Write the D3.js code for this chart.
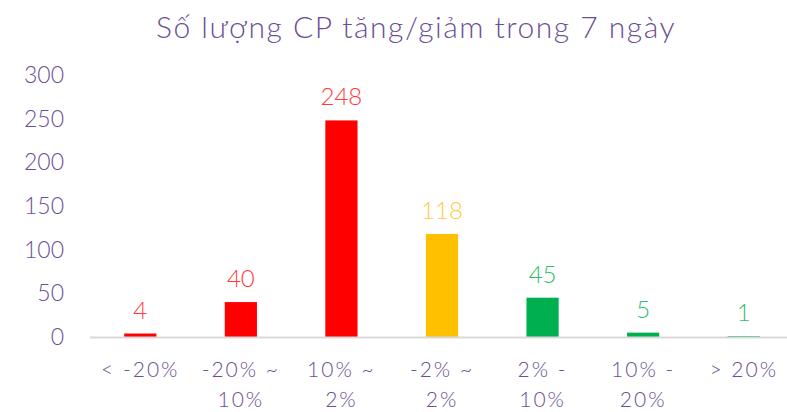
<html>
<head>
<meta charset="utf-8">
<style>
  body { margin:0; background:#fff; }
  text { font-family: Lato, 'Open Sans', sans-serif; font-weight:300; }
</style>
</head>
<body>
<div id="chart"></div>
<script src="https://cdn.jsdelivr.net/npm/d3@7"></script>
<script>
var title = "Số lượng CP tăng/giảm trong 7 ngày";
var categories = [["< -20%"], ["-20% ~", "10%"], ["10% ~", "2%"], ["-2% ~", "2%"], ["2% -", "10%"], ["10% -", "20%"], ["> 20%"]];
var values = [4, 40, 248, 118, 45, 5, 1];
var barColors = ["#ff0000", "#ff0000", "#ff0000", "#ffc000", "#00b050", "#00b050", "#00b050"];
var labelColors = ["#ff3b3b", "#ff3b3b", "#ff3b3b", "#ffc845", "#2ebd68", "#2ebd68", "#2ebd68"];
var yTicks = [0, 50, 100, 150, 200, 250, 300];

var W = 787, H = 412;
var svg = d3.select("#chart").append("svg").attr("width", W).attr("height", H);

var x = d3.scaleBand().domain(d3.range(values.length)).range([90, 794]).paddingInner(0.68).paddingOuter(0.34);
var y = d3.scaleLinear().domain([0, 300]).range([337, 75]);

svg.append("text")
  .attr("x", 416).attr("y", 38)
  .attr("text-anchor", "middle")
  .style("font-size", "30px")
  .style("letter-spacing", "1.5px")
  .style("fill", "#6b4f96")
  .text(title);

// y tick labels
svg.selectAll(".ytick").data(yTicks).enter().append("text")
  .attr("class", "ytick")
  .attr("x", 64).attr("y", function(d){ return y(d); })
  .attr("dy", "0.35em")
  .attr("text-anchor", "end")
  .style("font-size", "23px")
  .style("fill", "#6b4f96")
  .text(function(d){ return d; });

// bars
svg.selectAll(".bar").data(values).enter().append("rect")
  .attr("class", "bar")
  .attr("x", function(d, i){ return x(i); })
  .attr("width", x.bandwidth())
  .attr("y", function(d){ return y(d); })
  .attr("height", function(d){ return y(0) - y(d); })
  .style("fill", function(d, i){ return barColors[i]; });

// baseline
svg.append("line")
  .attr("x1", 90).attr("x2", W)
  .attr("y1", y(0) + 0.5).attr("y2", y(0) + 0.5)
  .style("stroke", "#d9d9d9").style("stroke-width", 2);

// value labels
svg.selectAll(".val").data(values).enter().append("text")
  .attr("class", "val")
  .attr("x", function(d, i){ return x(i) + x.bandwidth() / 2; })
  .attr("y", function(d){ return y(d) - 15; })
  .attr("text-anchor", "middle")
  .style("font-size", "24px")
  .style("fill", function(d, i){ return labelColors[i]; })
  .text(function(d){ return d; });

// category labels
var cat = svg.selectAll(".cat").data(categories).enter().append("text")
  .attr("class", "cat")
  .attr("text-anchor", "middle")
  .style("font-size", "21px")
  .style("letter-spacing", "2px")
  .style("fill", "#6b4f96");
cat.selectAll("tspan").data(function(d, i){ return d.map(function(s){ return {s: s, i: i}; }); })
  .enter().append("tspan")
  .attr("x", function(d){ return x(d.i) + x.bandwidth() / 2; })
  .attr("y", function(d, j){ return 377 + j * 30; })
  .text(function(d){ return d.s; });
</script>
</body>
</html>
